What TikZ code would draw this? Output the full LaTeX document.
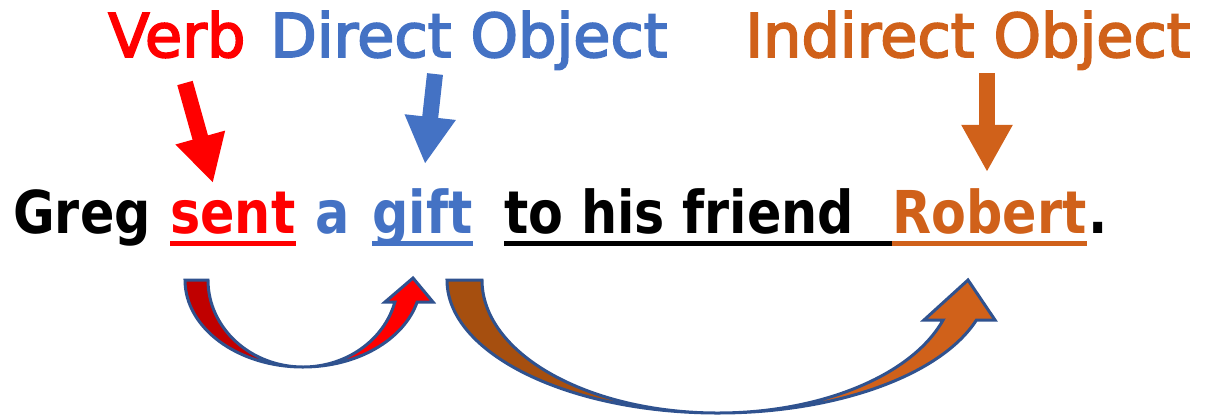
\documentclass[tikz,border=0pt]{standalone}
\usepackage{fontspec}
\usepackage{tikz}
\usetikzlibrary{arrows.meta, calc}
\newfontfamily\labelfont[FakeBold=3]{DejaVu Sans}
\newfontfamily\wordfont[FakeStretch=0.86]{DejaVu Sans}
\definecolor{verbred}{HTML}{FF0000}
\definecolor{darkred}{HTML}{C00000}
\definecolor{objblue}{HTML}{4472C4}
\definecolor{indorange}{HTML}{D0611A}
\definecolor{darkorange}{HTML}{A64F0F}
\definecolor{outline}{HTML}{2F528F}

\tikzset{
  toplabel/.style={anchor=base west, inner sep=0pt, font=\labelfont\fontsize{43}{50}\selectfont},
  word/.style={anchor=base west, inner sep=0pt, font=\wordfont\bfseries\fontsize{42}{50}\selectfont},
  uline/.style={line width=0.125cm},
  pointer/.style={line width=0.4cm, -{Triangle[width=1.2cm, length=1.18cm]}},
  curvearrow/.style={draw=outline, line width=0.075cm, line join=miter},
}

\begin{document}
\begin{tikzpicture}[x=0.025cm, y=-0.025cm]
    \useasboundingbox (0,0) rectangle (1210,417);

    % Labels on top
    \node[toplabel, text=verbred] (verb) at (108,57) {Verb};
    \node[toplabel, text=objblue] (dobj) at (270,57) {Direct Object};
    \node[toplabel, text=indorange] (iobj) at (745,57) {Indirect Object};

    % The sentence
    \node[word] (greg) at (13,233) {Greg};
    \node[word, text=verbred] (sent) at (170,233) {sent};
    \node[word, text=objblue] (art) at (315,233) {a};
    \node[word, text=objblue] (gift) at (372,233) {gift};
    \node[word] (rest) at (504,233) {to his friend};
    \node[word, text=indorange] (robert) at (892,233) {Robert};
    \node[word] (dot) at (1088,233) {.};

    % Underlines
    \draw[uline, verbred] ($(sent.base west)+(0,10)$) -- ($(sent.base east)+(0,10)$);
    \draw[uline, objblue] ($(gift.base west)+(0,10)$) -- ($(gift.base east)+(0,10)$);
    \draw[uline, black] ($(rest.base west)+(0,10)$) -- ($(robert.base west)+(0,10)$);
    \draw[uline, indorange] ($(robert.base west)+(0,10)$) -- ($(robert.base east)+(0,10)$);

    % Pointers from the labels down to the words
    \coordinate (verbtail) at (185,83);
    \coordinate (verbtip) at (213,183);
    \coordinate (dobjtail) at (435,74);
    \coordinate (dobjtip) at (425,164);
    \coordinate (iobjtail) at (987,73);
    \coordinate (iobjtip) at (987,172);
    \draw[pointer, verbred] (verbtail) -- (verbtip);
    \draw[pointer, objblue] (dobjtail) -- (dobjtip);
    \draw[pointer, indorange] (iobjtail) -- (iobjtip);

    % Curved arrow: sent -> gift
    \coordinate (redc) at (303,280);
    \path[curvearrow, fill=darkred] (redc) ++(180:118 and 87)
        arc[start angle=180, end angle=90, x radius=118, y radius=87]
        arc[start angle=90, end angle=180, x radius=95, y radius=87] -- cycle;
    \path[curvearrow, fill=verbred] (redc) ++(90:118 and 87)
        arc[start angle=90, end angle=14.65, x radius=118, y radius=87]
        -- (433,302) -- (413,278) -- (385,302) -- ($(redc)+(14.65:95 and 87)$)
        arc[start angle=14.65, end angle=90, x radius=95, y radius=87] -- cycle;

    % Curved arrow: gift -> Robert
    \coordinate (brownc) at (718,280);
    \path[curvearrow, fill=darkorange] (brownc) ++(180:271 and 133)
        arc[start angle=180, end angle=90, x radius=271, y radius=133]
        arc[start angle=90, end angle=180, x radius=236, y radius=133] -- cycle;
    \path[curvearrow, fill=indorange] (brownc) ++(90:271 and 133)
        arc[start angle=90, end angle=17.5, x radius=271, y radius=133]
        -- (995,320) -- (968,280) -- (924,320) -- ($(brownc)+(17.5:236 and 133)$)
        arc[start angle=17.5, end angle=90, x radius=236, y radius=133] -- cycle;
\end{tikzpicture}
\end{document}
